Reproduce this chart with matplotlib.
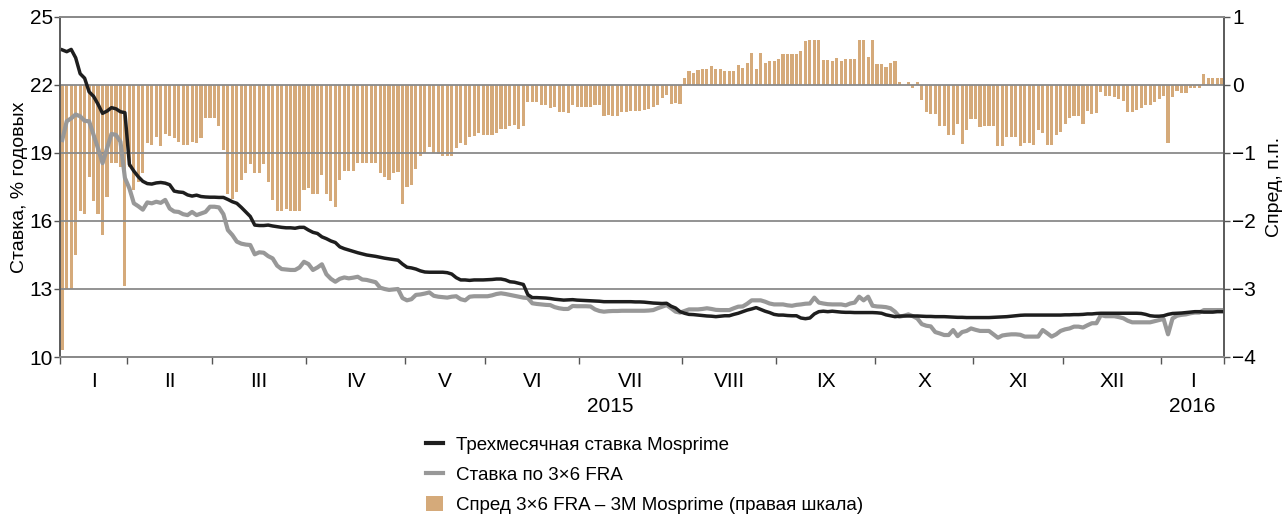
# Mosprime vs 3x6 FRA, daily 2015 - Jan 2016
import numpy as np
import matplotlib.pyplot as plt
from matplotlib.lines import Line2D
from matplotlib.patches import Patch

plt.rcParams['font.family'] = ['Liberation Sans Narrow', 'Liberation Sans', 'DejaVu Sans']

# ----------------------
# data (trading days)
# ----------------------
month_labels = ["I", "II", "III", "IV", "V", "VI", "VII", "VIII", "IX", "X", "XI", "XII", "I"]
month_days = [15, 19, 21, 22, 18, 21, 23, 21, 22, 22, 20, 22, 14]
years = ["2015", "2016"]
year_months = [12, 1]

mosprime = [
    23.55, 23.47, 23.57, 23.2, 22.5, 22.3, 21.7, 21.5, 21.15, 20.75,
    20.85, 21.0, 20.95, 20.82, 20.78, 18.5, 18.2, 17.95, 17.75, 17.65,
    17.63, 17.68, 17.7, 17.67, 17.6, 17.32, 17.28, 17.26, 17.15, 17.1,
    17.14, 17.08, 17.06, 17.05, 17.05, 17.04, 17.04, 16.95, 16.85, 16.78,
    16.6, 16.4, 16.2, 15.82, 15.8, 15.8, 15.82, 15.78, 15.75, 15.72,
    15.7, 15.7, 15.68, 15.72, 15.72, 15.6, 15.5, 15.45, 15.3, 15.22,
    15.12, 15.05, 14.86, 14.78, 14.72, 14.66, 14.6, 14.55, 14.5, 14.47,
    14.44, 14.4, 14.36, 14.33, 14.3, 14.27, 14.1, 13.96, 13.93, 13.88,
    13.8, 13.75, 13.74, 13.74, 13.74, 13.74, 13.72, 13.66, 13.5, 13.4,
    13.4, 13.38, 13.4, 13.4, 13.4, 13.41, 13.42, 13.44, 13.44, 13.4,
    13.32, 13.3, 13.25, 13.2, 12.75, 12.62, 12.62, 12.61, 12.6, 12.58,
    12.55, 12.53, 12.51, 12.52, 12.53, 12.51, 12.5, 12.49, 12.48, 12.47,
    12.46, 12.44, 12.44, 12.44, 12.44, 12.44, 12.44, 12.44, 12.43, 12.43,
    12.42, 12.4, 12.38, 12.37, 12.36, 12.37, 12.24, 12.16, 12.0, 11.93,
    11.88, 11.87, 11.85, 11.83, 11.81, 11.8, 11.78, 11.8, 11.82, 11.82,
    11.88, 11.93, 12.0, 12.07, 12.12, 12.18, 12.1, 12.02, 11.96, 11.88,
    11.85, 11.85, 11.83, 11.82, 11.82, 11.72, 11.69, 11.72, 11.9, 12.0,
    12.02, 12.0, 12.02, 12.0, 11.98, 11.97, 11.97, 11.96, 11.96, 11.96,
    11.96, 11.96, 11.95, 11.93, 11.86, 11.82, 11.78, 11.8, 11.81, 11.81,
    11.81, 11.81, 11.8, 11.79, 11.79, 11.78, 11.78, 11.78, 11.77, 11.76,
    11.75, 11.75, 11.74, 11.74, 11.74, 11.74, 11.74, 11.74, 11.75, 11.76,
    11.77, 11.78, 11.8, 11.82, 11.84, 11.85, 11.85, 11.85, 11.85, 11.85,
    11.85, 11.85, 11.85, 11.85, 11.86, 11.86, 11.87, 11.87, 11.88, 11.9,
    11.9, 11.92, 11.93, 11.93, 11.93, 11.93, 11.93, 11.93, 11.93, 11.93,
    11.93, 11.92, 11.88, 11.82, 11.8, 11.8, 11.82, 11.88, 11.92, 11.93,
    11.94, 11.96, 11.98, 12.0, 12.0, 11.98, 11.98, 11.98, 12.0, 12.0,
]

fra = [
    19.57, 20.4, 20.53, 20.7, 20.62, 20.42, 20.4, 19.8, 19.2, 18.55,
    19.2, 19.84, 19.8, 19.5, 17.9, 17.44, 16.78, 16.65, 16.5, 16.82,
    16.78, 16.85, 16.8, 16.93, 16.55, 16.42, 16.4, 16.3, 16.26, 16.4,
    16.26, 16.33, 16.4, 16.63, 16.63, 16.6, 16.3, 15.6, 15.38, 15.09,
    15.0, 14.96, 14.94, 14.53, 14.62, 14.6, 14.45, 14.35, 14.03, 13.88,
    13.86, 13.84, 13.84, 13.95, 14.2, 14.1, 13.84, 13.95, 14.09, 13.65,
    13.45, 13.32, 13.45, 13.51, 13.47, 13.5, 13.54, 13.42, 13.4, 13.35,
    13.3, 13.06, 13.0, 12.96, 12.98, 13.0, 12.6, 12.5, 12.55, 12.74,
    12.76, 12.8, 12.85, 12.7, 12.66, 12.64, 12.62, 12.66, 12.68, 12.55,
    12.5, 12.66, 12.68, 12.68, 12.68, 12.68, 12.72, 12.78, 12.81, 12.78,
    12.74, 12.7, 12.66, 12.62, 12.6, 12.37, 12.34, 12.32, 12.3, 12.29,
    12.2, 12.15, 12.12, 12.12, 12.25, 12.24, 12.24, 12.24, 12.23, 12.1,
    12.03, 12.0, 12.02, 12.03, 12.03, 12.04, 12.04, 12.04, 12.04, 12.04,
    12.04, 12.05, 12.07, 12.15, 12.22, 12.29, 12.15, 12.0, 11.96, 12.03,
    12.1, 12.1, 12.1, 12.12, 12.15, 12.12, 12.08, 12.07, 12.07, 12.07,
    12.15, 12.22, 12.23, 12.35, 12.5, 12.5, 12.5, 12.44, 12.36, 12.32,
    12.32, 12.32, 12.28, 12.26, 12.3, 12.32, 12.35, 12.36, 12.62, 12.4,
    12.36, 12.33, 12.32, 12.32, 12.32, 12.28, 12.36, 12.4, 12.66, 12.5,
    12.66, 12.26, 12.23, 12.22, 12.2, 12.15, 12.0, 11.78, 11.82, 11.88,
    11.8, 11.7, 11.45, 11.38, 11.35, 11.1, 11.04, 10.97, 10.97, 11.19,
    10.92, 11.1, 11.15, 11.26, 11.2, 11.15, 11.15, 11.15, 11.0, 10.85,
    10.95, 10.98, 11.0, 11.0, 10.98, 10.9, 10.9, 10.9, 10.9, 11.19,
    11.05, 10.9, 11.0, 11.15, 11.22, 11.26, 11.34, 11.34, 11.3, 11.4,
    11.49, 11.49, 11.85, 11.8, 11.8, 11.8, 11.76, 11.71, 11.6, 11.53,
    11.53, 11.53, 11.53, 11.53, 11.58, 11.63, 11.68, 11.0, 11.7, 11.82,
    11.86, 11.88, 11.93, 11.96, 11.96, 12.07, 12.07, 12.07, 12.07, 12.07,
]

spread = [
    # I
    -3.9, -3.0, -3.0, -2.5, -1.85, -1.9, -1.35, -1.7, -1.9, -2.2, -1.65, -1.15, -1.15, -1.2, -2.95,
    # II
    -1.2, -1.55, -1.42, -1.3, -0.86, -0.88, -0.76, -0.9, -0.72, -0.75, -0.78, -0.84, -0.88, -0.88,
    -0.84, -0.86, -0.78, -0.48, -0.48,
    # III
    -0.48, -0.6, -0.96, -1.6, -1.68, -1.58, -1.4, -1.3, -1.16, -1.3, -1.3, -1.16, -1.42, -1.69,
    -1.85, -1.85, -1.82, -1.85, -1.85, -1.85, -1.55,
    # IV
    -1.51, -1.61, -1.61, -1.33, -1.61, -1.7, -1.8, -1.4, -1.26, -1.26, -1.26, -1.15, -1.15, -1.15,
    -1.15, -1.15, -1.3, -1.35, -1.4, -1.3, -1.28, -1.75,
    # V
    -1.5, -1.47, -1.23, -1.04, -1.0, -0.91, -1.0, -1.02, -1.04, -1.04, -1.04, -0.93, -0.86, -0.88,
    -0.76, -0.75, -0.71, -0.74,
    # VI
    -0.74, -0.74, -0.71, -0.64, -0.64, -0.61, -0.59, -0.65, -0.6, -0.25, -0.25, -0.25, -0.29, -0.29,
    -0.34, -0.32, -0.39, -0.39, -0.41, -0.3, -0.32,
    # VII
    -0.32, -0.32, -0.32, -0.29, -0.3, -0.45, -0.44, -0.45, -0.45, -0.39, -0.39, -0.38, -0.38, -0.38,
    -0.37, -0.36, -0.33, -0.3, -0.19, -0.14, -0.28, -0.26, -0.28,
    # VIII
    0.11, 0.21, 0.17, 0.22, 0.24, 0.24, 0.28, 0.23, 0.23, 0.2, 0.2, 0.2, 0.29, 0.25, 0.32, 0.47,
    0.24, 0.47, 0.33, 0.35, 0.35,
    # IX
    0.38, 0.45, 0.45, 0.45, 0.45, 0.5, 0.64, 0.66, 0.66, 0.66, 0.37, 0.37, 0.35, 0.39, 0.36, 0.38,
    0.38, 0.38, 0.66, 0.66, 0.41, 0.66,
    # X
    0.31, 0.31, 0.26, 0.33, 0.35, 0.04, 0.0, 0.04, -0.04, 0.04, -0.22, -0.4, -0.42, -0.42, -0.61,
    -0.6, -0.74, -0.74, -0.58, -0.87, -0.66, -0.5,
    # XI
    -0.5, -0.62, -0.6, -0.6, -0.6, -0.89, -0.89, -0.76, -0.76, -0.76, -0.89, -0.86, -0.86, -0.88,
    -0.66, -0.71, -0.88, -0.88, -0.73, -0.69,
    # XII
    -0.57, -0.48, -0.45, -0.45, -0.58, -0.38, -0.43, -0.41, -0.1, -0.16, -0.16, -0.17, -0.2, -0.24,
    -0.4, -0.4, -0.37, -0.34, -0.29, -0.3, -0.25, -0.21,
    # I 2016
    -0.16, -0.86, -0.17, -0.09, -0.12, -0.12, -0.04, -0.04, -0.04, 0.16, 0.11, 0.11, 0.11, 0.11,
]

labels = ["Трехмесячная ставка Mosprime", "Ставка по 3×6 FRA",
          "Спред 3×6 FRA – 3M Mosprime (правая шкала)"]

c_black = "#1e1e1e"
c_gray = "#989898"
c_tan = "#d5aa7a"
c_grid = "#8a8a8a"
fs = 15        # tick labels
fs_lab = 14    # axis titles
fs_leg = 13.5  # legend

n = sum(month_days)
days = np.arange(n)
bounds = np.concatenate([[0], np.cumsum(month_days)]) - 0.5
centers = (bounds[:-1] + bounds[1:]) / 2

# ----------------------
# figure
# ----------------------
fig = plt.figure(figsize=(12.88, 5.21), dpi=100)
ax = fig.add_axes([60 / 1288, 1 - 357 / 521, (1224 - 60) / 1288, (357 - 17) / 521])
ax2 = ax.twinx()

# spread bars on right scale (drawn first, behind)
ax.bar(days[:len(spread)], spread, width=0.7, color=c_tan, linewidth=0, zorder=1)
ax.set_ylim(-4, 1)
ax.set_yticks([-4, -3, -2, -1, 0, 1])
ax.set_axisbelow(False)
ax.yaxis.grid(True, color=c_grid, linewidth=1.3)
ax.xaxis.grid(False)

# rates on left scale
ax2.plot(days[:len(fra)], fra, color=c_gray, linewidth=3.0, solid_joinstyle="round")
ax2.plot(days[:len(mosprime)], mosprime, color=c_black, linewidth=2.5, solid_joinstyle="round")
ax2.set_ylim(10, 25)
ax2.set_yticks([10, 13, 16, 19, 22, 25])

ax.set_xlim(-0.5, n - 0.5)

# swap sides: bars axis on the right, rates on the left
ax.yaxis.tick_right()
ax.yaxis.set_label_position("right")
ax2.yaxis.tick_left()
ax2.yaxis.set_label_position("left")

ax.set_ylabel("Спред, п.п.", fontsize=fs_lab, labelpad=7)
ax2.set_ylabel("Ставка, % годовых", fontsize=fs_lab, labelpad=1)

ax.tick_params(axis="y", labelsize=fs, length=4, width=1, color="#555555", pad=2)
ax2.tick_params(axis="y", labelsize=fs, length=4, width=1, color="#555555", pad=1)

# month ticks
ax.set_xticks(bounds)
ax.set_xticklabels([])
ax.set_xticks(centers, minor=True)
ax.set_xticklabels(month_labels, minor=True, fontsize=fs)
ax.tick_params(axis="x", which="major", length=5, width=1, color="#555555")
ax.tick_params(axis="x", which="minor", length=0, pad=11)

# year labels centred on their spans
start = 0
for yr, nm in zip(years, year_months):
    lo = bounds[start]
    hi = bounds[start + nm]
    ax.annotate(yr, xy=((lo + hi) / 2, 0), xycoords=ax.get_xaxis_transform(),
                xytext=(0, -36), textcoords="offset points",
                ha="center", va="center", fontsize=fs)
    start += nm

for a in (ax, ax2):
    for side in ["top", "bottom"]:
        a.spines[side].set_color(c_grid)
        a.spines[side].set_linewidth(1.3)
    for side in ["left", "right"]:
        a.spines[side].set_color("#555555")
        a.spines[side].set_linewidth(1.1)

# legend
handles = [
    Line2D([], [], color=c_black, linewidth=3),
    Line2D([], [], color=c_gray, linewidth=3),
    Patch(facecolor=c_tan, edgecolor="none"),
]
fig.legend(handles, labels, loc="upper left", bbox_to_anchor=(0.331, 0.163),
           frameon=False, fontsize=fs_leg, handlelength=0.9, handleheight=0.9,
           handletextpad=0.7, labelspacing=0.62, borderpad=0, borderaxespad=0)

fig.savefig("out.png", dpi=100)
